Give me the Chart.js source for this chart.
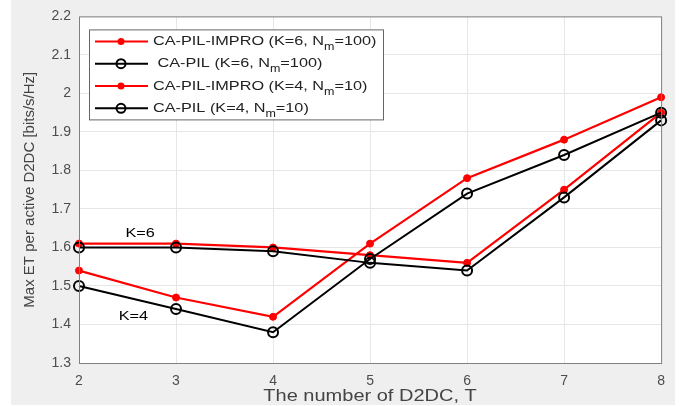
<!DOCTYPE html>
<html>
<head>
<meta charset="utf-8">
<script src="https://cdn.jsdelivr.net/npm/chart.js@4/dist/chart.umd.min.js"></script>
<style>
  html, body { margin: 0; padding: 0; background: #fff; }
  #wrap { position: absolute; left: 11px; top: 0; width: 664px; height: 405px; }
</style>
</head>
<body>
<div id="wrap"><canvas id="lineChart"></canvas></div>
<script>
// data
const xLabels = ['2', '3', '4', '5', '6', '7', '8'];
const yTicks = [1.3, 1.4, 1.5, 1.6, 1.7, 1.8, 1.9, 2.0, 2.1, 2.2];
const improK6 = [1.61, 1.61, 1.60, 1.58, 1.56, 1.75, 1.95];
const pilK6 = [1.60, 1.60, 1.59, 1.56, 1.54, 1.73, 1.93];
const improK4 = [1.54, 1.47, 1.42, 1.61, 1.78, 1.88, 1.99];
const pilK4 = [1.50, 1.44, 1.38, 1.57, 1.74, 1.84, 1.95];

// legend entries: [before subscript, subscript, after, colour, filled?]
const legendRows = [
    ['CA-PIL-IMPRO (K=6, N', 'm', '=100)', '#ff0000', true],
    [' CA-PIL (K=6, N', 'm', '=100)', '#000000', false],
    ['CA-PIL-IMPRO (K=4, N', 'm', '=10)', '#ff0000', true],
    ['CA-PIL (K=4, N', 'm', '=10)', '#000000', false]
];
const FONT = '"Liberation Sans", Arial, sans-serif';
const SX = 1.25; // the picture is a bit wider than tall, text too

function redSeries(label, data) {
    return {
        label: label, data: data, order: 1,
        borderColor: '#ff0000', backgroundColor: '#ff0000',
        borderWidth: 2.2, pointRadius: 3.5, pointHoverRadius: 3.5,
        pointBorderWidth: 1, pointBackgroundColor: '#ff0000', tension: 0
    };
}
function blackSeries(label, data) {
    return {
        label: label, data: data, order: 0,
        borderColor: '#000000', backgroundColor: 'rgba(0,0,0,0)',
        borderWidth: 2, pointRadius: 5, pointHoverRadius: 5,
        pointBorderWidth: 2, pointBackgroundColor: 'rgba(0,0,0,0)', tension: 0
    };
}

// wide text: returns drawn width
function wideText(ctx, text, x, y) {
    ctx.save();
    ctx.translate(x, y);
    ctx.scale(SX, 1);
    ctx.fillText(text, 0, 0);
    ctx.restore();
    return ctx.measureText(text).width * SX;
}

// gray figure background, white axes, box, legend and labels
const matlabLook = {
    id: 'matlabLook',
    beforeDraw(chart) {
        const {ctx, chartArea: a} = chart;
        ctx.save();
        ctx.fillStyle = '#efefef';
        ctx.fillRect(0, 0, chart.width, chart.height);
        ctx.fillStyle = '#ffffff';
        ctx.fillRect(a.left, a.top, a.right - a.left, a.bottom - a.top);
        ctx.restore();
    },
    afterDatasetsDraw(chart) {
        const {ctx, chartArea: a, scales} = chart;
        ctx.save();
        // axes box
        ctx.strokeStyle = '#808080';
        ctx.lineWidth = 1;
        ctx.strokeRect(a.left + 0.5, a.top + 0.5, a.right - a.left, a.bottom - a.top);

        ctx.textAlign = 'left';
        ctx.textBaseline = 'middle';

        // x axis title
        ctx.fillStyle = '#444';
        ctx.font = '16px ' + FONT;
        const tw = ctx.measureText('The number of D2DC, T').width * SX;
        wideText(ctx, 'The number of D2DC, T', (a.left + a.right) / 2 - tw / 2, 397);

        // annotations
        ctx.fillStyle = '#000';
        ctx.font = '13px ' + FONT;
        const kw = ctx.measureText('K=6').width * SX;
        wideText(ctx, 'K=6', scales.x.getPixelForValue(0.63) - kw / 2, scales.y.getPixelForValue(1.636));
        wideText(ctx, 'K=4', scales.x.getPixelForValue(0.56) - kw / 2, scales.y.getPixelForValue(1.422));

        // legend
        const bx = a.left + 10, by = a.top + 13, bw = 294, bh = 90;
        ctx.fillStyle = '#fff';
        ctx.fillRect(bx, by, bw, bh);
        ctx.strokeStyle = '#666';
        ctx.strokeRect(bx + 0.5, by + 0.5, bw, bh);
        legendRows.forEach((r, i) => {
            const cy = by + 12 + i * 22.3;
            ctx.strokeStyle = r[3];
            ctx.lineWidth = 2;
            ctx.beginPath();
            ctx.moveTo(bx + 6, cy);
            ctx.lineTo(bx + 59, cy);
            ctx.stroke();
            ctx.beginPath();
            if (r[4]) {
                ctx.fillStyle = r[3];
                ctx.arc(bx + 32, cy, 3.5, 0, Math.PI * 2);
                ctx.fill();
            } else {
                ctx.arc(bx + 32, cy, 4.5, 0, Math.PI * 2);
                ctx.stroke();
            }
            ctx.fillStyle = '#222';
            ctx.font = '13px ' + FONT;
            let tx = bx + 64;
            tx += wideText(ctx, r[0], tx, cy);
            ctx.font = '10px ' + FONT;
            tx += wideText(ctx, r[1], tx, cy + 6);
            ctx.font = '13px ' + FONT;
            wideText(ctx, r[2], tx, cy);
        });
        ctx.restore();
    }
};

const ctxLine = document.getElementById('lineChart').getContext('2d');
const lineChart = new Chart(ctxLine, {
    type: 'line',
    data: {
        labels: xLabels,
        datasets: [
            redSeries('CA-PIL-IMPRO (K=6, Nm=100)', improK6),
            blackSeries('CA-PIL (K=6, Nm=100)', pilK6),
            redSeries('CA-PIL-IMPRO (K=4, Nm=10)', improK4),
            blackSeries('CA-PIL (K=4, Nm=10)', pilK4)
        ]
    },
    options: {
        responsive: true,
        maintainAspectRatio: false,
        animation: false,
        layout: { padding: { top: 15, right: 9, left: 0, bottom: 0 } },
        plugins: {
            legend: { display: false },
            tooltip: { enabled: false }
        },
        scales: {
            x: {
                offset: false,
                grid: { color: '#e6e6e6', drawTicks: false },
                border: { display: false },
                ticks: { color: '#4d4d4d', padding: 10, font: { family: FONT, size: 14 } },
                afterFit(scale) { scale.height = 42; }
            },
            y: {
                min: yTicks[0],
                max: yTicks[yTicks.length - 1],
                afterBuildTicks(scale) { scale.ticks = yTicks.map(v => ({ value: v })); },
                grid: { color: '#e6e6e6', drawTicks: false },
                border: { display: false },
                ticks: {
                    color: '#4d4d4d', padding: 8, font: { family: FONT, size: 14 },
                    callback: v => String(Math.round(v * 10) / 10)
                },
                title: {
                    display: true, text: 'Max ET per active D2DC [bits/s/Hz]', color: '#444',
                    padding: { top: 10, bottom: 0 }, font: { family: FONT, size: 15 }
                },
                afterFit(scale) { scale.width = 68; }
            }
        }
    },
    plugins: [matlabLook]
});
</script>
</body>
</html>
